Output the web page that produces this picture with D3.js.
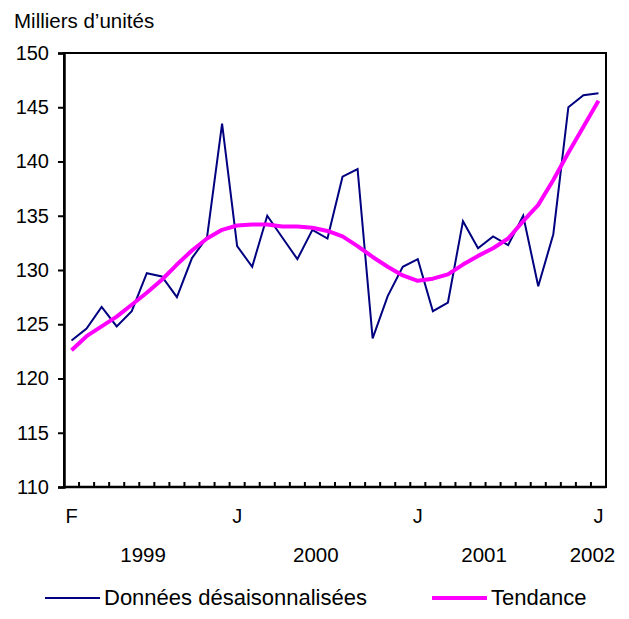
<!DOCTYPE html>
<html>
<head>
<meta charset="utf-8">
<script src="https://cdn.jsdelivr.net/npm/d3@7"></script>
<style>
body{margin:0;background:#fff;}
text{font-family:"Liberation Sans",Arial,sans-serif;fill:#000;}
</style>
</head>
<body>
<div id="canvas"></div>
<script>
// months Feb 1999 .. Jan 2002
var months = d3.timeMonth.range(new Date(1999,1,1), new Date(2002,1,1));

// seasonally adjusted data (thousands of units)
var sa = [123.5,124.6,126.6,124.8,126.2,129.7,129.4,127.5,131.1,133.0,143.5,
          132.2,130.3,135.0,133.0,131.0,133.7,132.9,138.6,139.3,123.7,127.6,130.3,
          131.0,126.2,127.0,134.5,132.0,133.1,132.3,135.0,128.5,133.3,145.0,146.1,146.3];
// trend
var trend = [122.6,123.9,124.8,125.7,126.8,127.9,129.1,130.5,131.8,132.9,133.7,
             134.1,134.2,134.2,134.0,134.0,133.9,133.6,133.1,132.2,131.2,130.3,129.5,
             129.0,129.2,129.6,130.5,131.3,132.0,132.9,134.5,136.0,138.3,140.8,143.2,145.6];

var yTicks = [110,115,120,125,130,135,140,145,150];
var monthLabels = [{i:0,l:"F"},{i:11,l:"J"},{i:23,l:"J"},{i:35,l:"J"}];
var years = ["1999","2000","2001","2002"];
var yearPos = [4.75,16.23,27.4,34.6];

var W = 629, H = 619;
var m = {t:53,r:23,b:132,l:64};
var w = W - m.l - m.r, h = H - m.t - m.b;

var svg = d3.select('#canvas').append('svg')
    .attr('width',W).attr('height',H);

var plot = svg.append('g').attr('transform','translate('+m.l+','+m.t+')');

var x = d3.scaleBand().domain(d3.range(months.length)).range([0,w]);
var y = d3.scaleLinear().domain([110,150]).range([h,0]);
var cx = function(i){ return x.step()*(i+0.5); };

// frame
plot.append('rect').attr('x',0).attr('y',0).attr('width',w).attr('height',h)
    .attr('fill','none').attr('stroke','#000').attr('stroke-width',2);

// y axis
var axisY = d3.axisLeft(y).tickValues(yTicks).tickSize(6).tickPadding(9);
var gy = plot.append('g').attr('class','axis axis-y').call(axisY);
gy.select('.domain').attr('stroke-width',2.5);
gy.selectAll('.tick line').attr('stroke-width',2);
gy.selectAll('text').style('font-size','20px').attr('fill','#000');

// x ticks at category boundaries, pointing inward
var bounds = d3.range(months.length+1);
plot.append('g').selectAll('line').data(bounds).enter().append('line')
    .attr('x1',function(d){return d*x.step();})
    .attr('x2',function(d){return d*x.step();})
    .attr('y1',h).attr('y2',h-5)
    .attr('stroke','#000').attr('stroke-width',2);
plot.append('line').attr('x1',0).attr('x2',w).attr('y1',h).attr('y2',h)
    .attr('stroke','#000').attr('stroke-width',2.5);

plot.selectAll('.mlab').data(monthLabels).enter().append('text')
    .attr('class','mlab')
    .attr('x',function(d){return cx(d.i);})
    .attr('y',h+36)
    .attr('text-anchor','middle')
    .style('font-size','20px')
    .text(function(d){return d.l;});

plot.selectAll('.ylab').data(years).enter().append('text')
    .attr('class','ylab')
    .attr('x',function(d,i){return cx(yearPos[i]);})
    .attr('y',h+75)
    .attr('text-anchor','middle')
    .style('font-size','20.5px')
    .text(function(d){return d;});

// lines
var line = function(vals){
    return d3.line().x(function(d,i){return cx(i);}).y(function(d){return y(d);})(vals);
};
plot.append('path').attr('d',line(sa))
    .attr('fill','none').attr('stroke','#000080').attr('stroke-width',2)
    .attr('stroke-linejoin','miter');
plot.append('path').attr('d',line(trend))
    .attr('fill','none').attr('stroke','#ff00ff').attr('stroke-width',4)
    .attr('stroke-linejoin','round');

// y title
svg.append('text').attr('x',14).attr('y',28).style('font-size','20.5px').text('Milliers d\u2019unités');

// legend
var legend = [
    {label:'Données désaisonnalisées', color:'#000080', sw:2, x:45},
    {label:'Tendance', color:'#ff00ff', sw:4, x:432}
];
var lg = svg.selectAll('.legend').data(legend).enter().append('g')
    .attr('class','legend')
    .attr('transform',function(d){return 'translate('+d.x+',598)';});
lg.append('line').attr('x1',0).attr('x2',55).attr('y1',0).attr('y2',0)
    .attr('stroke',function(d){return d.color;})
    .attr('stroke-width',function(d){return d.sw;});
lg.append('text').attr('x',59).attr('y',7).style('font-size','22px')
    .text(function(d){return d.label;});
</script>
</body>
</html>
